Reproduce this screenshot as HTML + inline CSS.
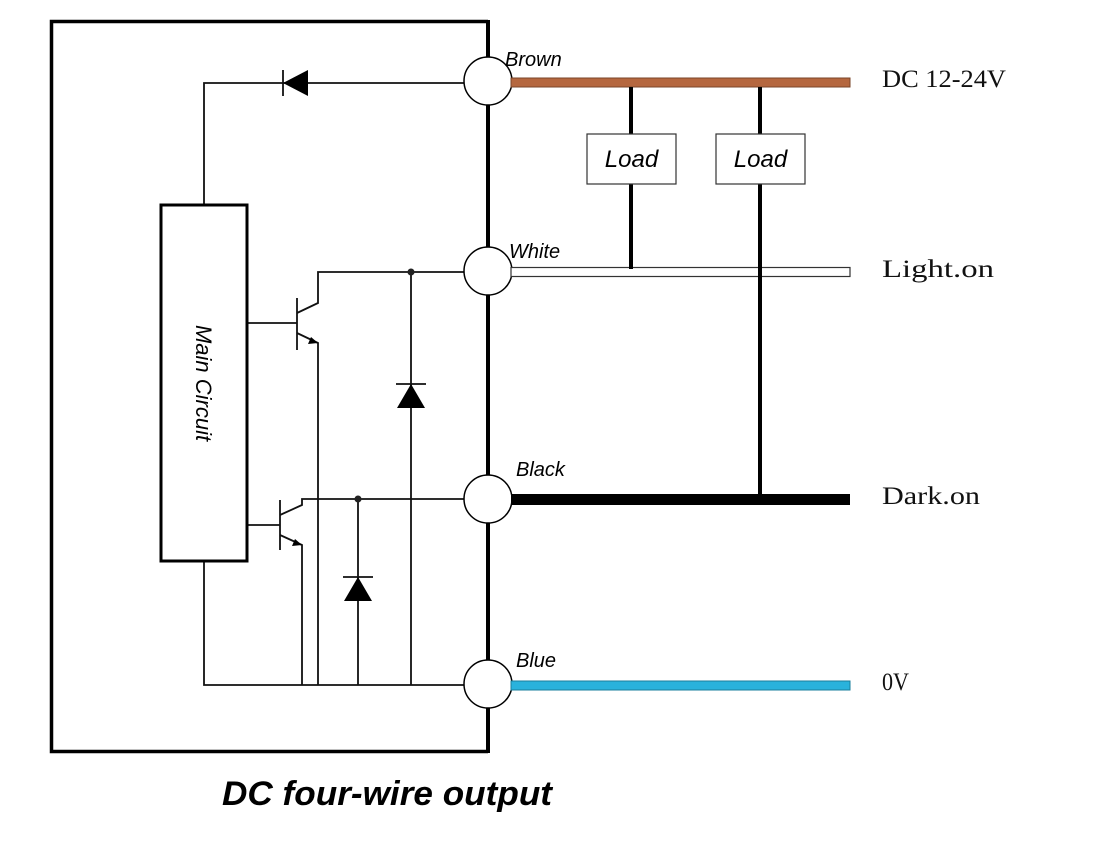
<!DOCTYPE html>
<html><head><meta charset="utf-8"><style>html,body{margin:0;padding:0;background:#fff}svg{display:block}</style></head>
<body>
<svg width="1114" height="858" viewBox="0 0 1114 858" xmlns="http://www.w3.org/2000/svg">
<rect x="0" y="0" width="1114" height="858" fill="#fff"/>
<path d="M488 21.5 H51.5 V751.5 H488" fill="none" stroke="#000" stroke-width="3.5"/>
<line x1="488" y1="20" x2="488" y2="753" stroke="#000" stroke-width="4"/>
<g stroke="#111" stroke-width="1.8" fill="none">
<path d="M204 204 V83 H464"/>
<path d="M204 561 V685 H464"/>
<path d="M247 323 H297"/>
<path d="M297 298 V350"/>
<path d="M297 313 L318 303 V272 H464"/>
<path d="M297 333 L318 343 V685"/>
<path d="M411 272 V685"/>
<path d="M247 525 H280"/>
<path d="M280 500 V550"/>
<path d="M280 515 L302 505 V499 H464"/>
<path d="M280 535 L302 545 V685"/>
<path d="M358 499 V685"/>
<path d="M283 70 V96"/>
<path d="M396 384 H426"/>
<path d="M343 577 H373"/>
</g>
<polygon points="283,83 308,70 308,96" fill="#000"/>
<polygon points="411,384 397,408 425,408" fill="#000"/>
<polygon points="358,577 344,601 372,601" fill="#000"/>
<polygon points="318,343 308,344 311,337" fill="#000"/>
<polygon points="302,545 292,546 295,539" fill="#000"/>
<circle cx="411" cy="272" r="3.5" fill="#222"/>
<circle cx="358" cy="499" r="3.5" fill="#222"/>
<rect x="161" y="205" width="86" height="356" fill="#fff" stroke="#000" stroke-width="3"/>
<text transform="translate(196,383) rotate(90)" text-anchor="middle" font-family="Liberation Sans, sans-serif" font-style="italic" font-size="22" fill="#000">Main Circuit</text>
<g fill="#fff" stroke="#000" stroke-width="1.5">
<circle cx="488" cy="81" r="24"/>
<circle cx="488" cy="271" r="24"/>
<circle cx="488" cy="499" r="24"/>
<circle cx="488" cy="684" r="24"/>
</g>
<rect x="511" y="78" width="339" height="9" fill="#b5673f" stroke="#7a4528" stroke-width="1"/>
<rect x="511" y="267.5" width="339" height="9" fill="#fff" stroke="#333" stroke-width="1.2"/>
<rect x="511" y="494" width="339" height="11" fill="#000"/>
<rect x="511" y="681" width="339" height="9" fill="#29b2dc" stroke="#1a7f9c" stroke-width="1"/>
<g stroke="#000" stroke-width="4">
<line x1="631" y1="87" x2="631" y2="134"/>
<line x1="631" y1="184" x2="631" y2="269"/>
<line x1="760" y1="87" x2="760" y2="134"/>
<line x1="760" y1="184" x2="760" y2="496"/>
</g>
<rect x="587" y="134" width="89" height="50" fill="#fff" stroke="#333" stroke-width="1.2"/>
<rect x="716" y="134" width="89" height="50" fill="#fff" stroke="#333" stroke-width="1.2"/>
<g font-family="Liberation Sans, sans-serif" font-style="italic" fill="#000">
<text x="631.5" y="167" text-anchor="middle" font-size="24">Load</text>
<text x="760.5" y="167" text-anchor="middle" font-size="24">Load</text>
<text x="505" y="66" font-size="20">Brown</text>
<text x="509" y="258" font-size="20">White</text>
<text x="516" y="476" font-size="20">Black</text>
<text x="516" y="667" font-size="20">Blue</text>
<text x="222" y="805" font-size="34" font-weight="bold" textLength="330" lengthAdjust="spacingAndGlyphs">DC four-wire output</text>
</g>
<g font-family="Liberation Serif, serif" font-size="25" fill="#111">
<text x="882" y="87" textLength="124" lengthAdjust="spacingAndGlyphs">DC 12-24V</text>
<text x="882" y="277" textLength="112" lengthAdjust="spacingAndGlyphs">Light.on</text>
<text x="882" y="504" textLength="98" lengthAdjust="spacingAndGlyphs">Dark.on</text>
<text x="882" y="690" textLength="27" lengthAdjust="spacingAndGlyphs">0V</text>
</g>
</svg>
</body></html>
